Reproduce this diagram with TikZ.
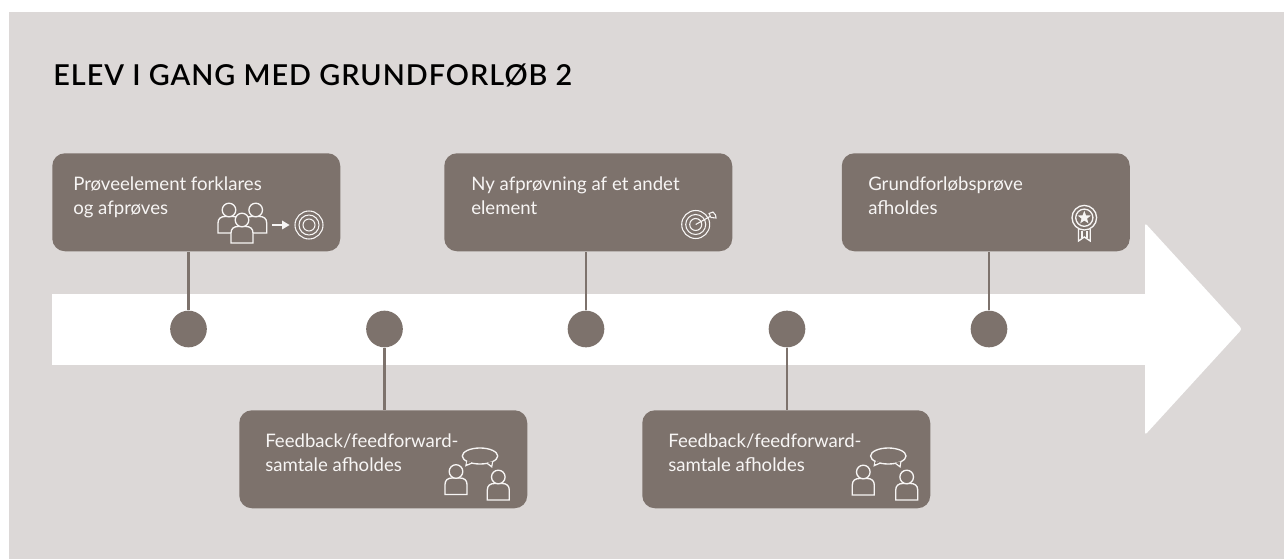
\documentclass[tikz,border=0pt]{standalone}
\usepackage{fontspec}
\setmainfont{Lato}
\newfontfamily\titlefont[LetterSpace=3.5]{Lato Semibold}
\definecolor{pagebg}{HTML}{DCD8D7}
\definecolor{boxc}{HTML}{7D726C}
\definecolor{textc}{HTML}{F7F5F4}
\usetikzlibrary{shapes.geometric}
\tikzset{
  boxnode/.style={fill=boxc,rounded corners=9.5pt,minimum width=216pt,minimum height=73.5pt,inner sep=0pt,anchor=north west},
  dotnode/.style={circle,fill=boxc,minimum size=27.5pt,inner sep=0pt},
  link/.style={draw=boxc,line width=2pt},
  lbl/.style={text=textc,font=\fontsize{13.95}{18}\selectfont,align=left,inner sep=0pt,anchor=north west},
  ico/.style={draw=textc,line width=1pt,fill=boxc},
  person/.pic={
    \draw[ico] (-11,23) -- (-11,13) .. controls (-11,8.5) and (-8,6.5) .. (-4,6.5) -- (4,6.5) .. controls (8,6.5) and (11,8.5) .. (11,13) -- (11,23) -- cycle;
    \draw[ico] (0,0) circle[radius=6.8];
  },
  bubble/.pic={
    \draw[ico] (0,0) ellipse[x radius=17.7,y radius=8];
    \draw[ico] (-13,5) -- (-14,9.5) -- (-8,7);
    \draw[ico] (7,7.2) -- (11.7,10.7) -- (12.5,5.6);
    \path[fill=boxc] (-12.4,4.8) -- (-13.4,8) -- (-8.6,6.6) -- cycle;
    \path[fill=boxc] (7.9,6.8) -- (11.2,9.2) -- (11.9,5.6) -- cycle;
  },
  rings/.pic={
    \draw[draw=textc,line width=.8pt] (0,0) circle[radius=14] (0,0) circle[radius=10] (0,0) circle[radius=6];
  }
}
\begin{document}
\begin{tikzpicture}[x=.75pt,y=-.75pt]
\useasboundingbox (0,0) rectangle (1284,559);
\fill[pagebg] (9,12) rectangle (1284,559);
\node[anchor=base west,inner sep=0pt,font=\fontsize{21.6}{24}\selectfont\titlefont] (title) at (53,86) {ELEV I GANG MED GRUNDFORLØB 2};
% arrow
\fill[white] (52,294) rectangle (1150,365);
\fill[white,rounded corners=2pt] (1145,223) -- (1242,329) -- (1145,435) -- cycle;
% boxes
\node[boxnode] (b1) at (52,153) {};
\node[boxnode] (b2) at (239,410) {};
\node[boxnode] (b3) at (444,153) {};
\node[boxnode] (b4) at (642,410) {};
\node[boxnode] (b5) at (841.5,153) {};
% dots
\node[dotnode] (d1) at (188.5,329) {};
\node[dotnode] (d2) at (384.5,329) {};
\node[dotnode] (d3) at (586,329) {};
\node[dotnode] (d4) at (787,329) {};
\node[dotnode] (d5) at (989,329) {};
% links
\draw[link] (d1) -- (d1 |- b1.south);
\draw[link] (d2) -- (d2 |- b2.north);
\draw[link] (d3) -- (d3 |- b3.south);
\draw[link] (d4) -- (d4 |- b4.north);
\draw[link] (d5) -- (d5 |- b5.south);
% labels
\node[lbl] (t1) at (73,176.5) {Prøveelement forklares\\og afprøves};
\node[lbl] (t2) at (265,434) {Feedback/feedforward-\\samtale afholdes};
\node[lbl] (t3) at (471,176.5) {Ny afprøvning af et andet\\element};
\node[lbl] (t4) at (668,434) {Feedback/feedforward-\\samtale afholdes};
\node[lbl] (t5) at (868,176.5) {Grundforløbsprøve\\afholdes};
% icon box 1
\pic at (229,210) {person};
\pic at (255.7,210) {person};
\pic at (242,220) {person};
\draw[textc,line width=1.4pt] (272,225) -- (284,225);
\fill[textc] (289.5,225) -- (282,220.5) -- (282,229.5) -- cycle;
\pic at (309,225) {rings};
% icon box 2
\pic at (480,456) {bubble};
\pic at (456,471.5) {person};
\pic at (498.3,477) {person};
% icon box 3
\pic at (695.7,224.5) {rings};
\draw[textc,line width=.8pt] (695.7,224.5) -- (710,216.5);
\draw[textc,line width=.8pt] (709,213.5) -- (711,217.5) -- (716,218) -- (715.5,215) -- (713,212) -- cycle;
% icon box 4
\pic at (888.3,456) {bubble};
\pic at (863.3,472) {person};
\pic at (906.7,477) {person};
% icon box 5
\draw[draw=textc,line width=1pt] (1084.3,217.7) circle[radius=12.3] (1084.3,217.7) circle[radius=8.6];
\node[star,star points=5,star point ratio=2.4,fill=textc,minimum size=10.5pt,inner sep=0pt] (st) at (1084.3,217.7) {};
\draw[draw=textc,line width=1pt,line join=miter] (1078.5,229) -- (1078.5,241) -- (1084.3,237) -- (1090.3,241) -- (1090.3,229);
\draw[draw=textc,line width=1pt] (1082,231) -- (1082,238.5) (1087,231) -- (1087,238.5);
\end{tikzpicture}
\end{document}
